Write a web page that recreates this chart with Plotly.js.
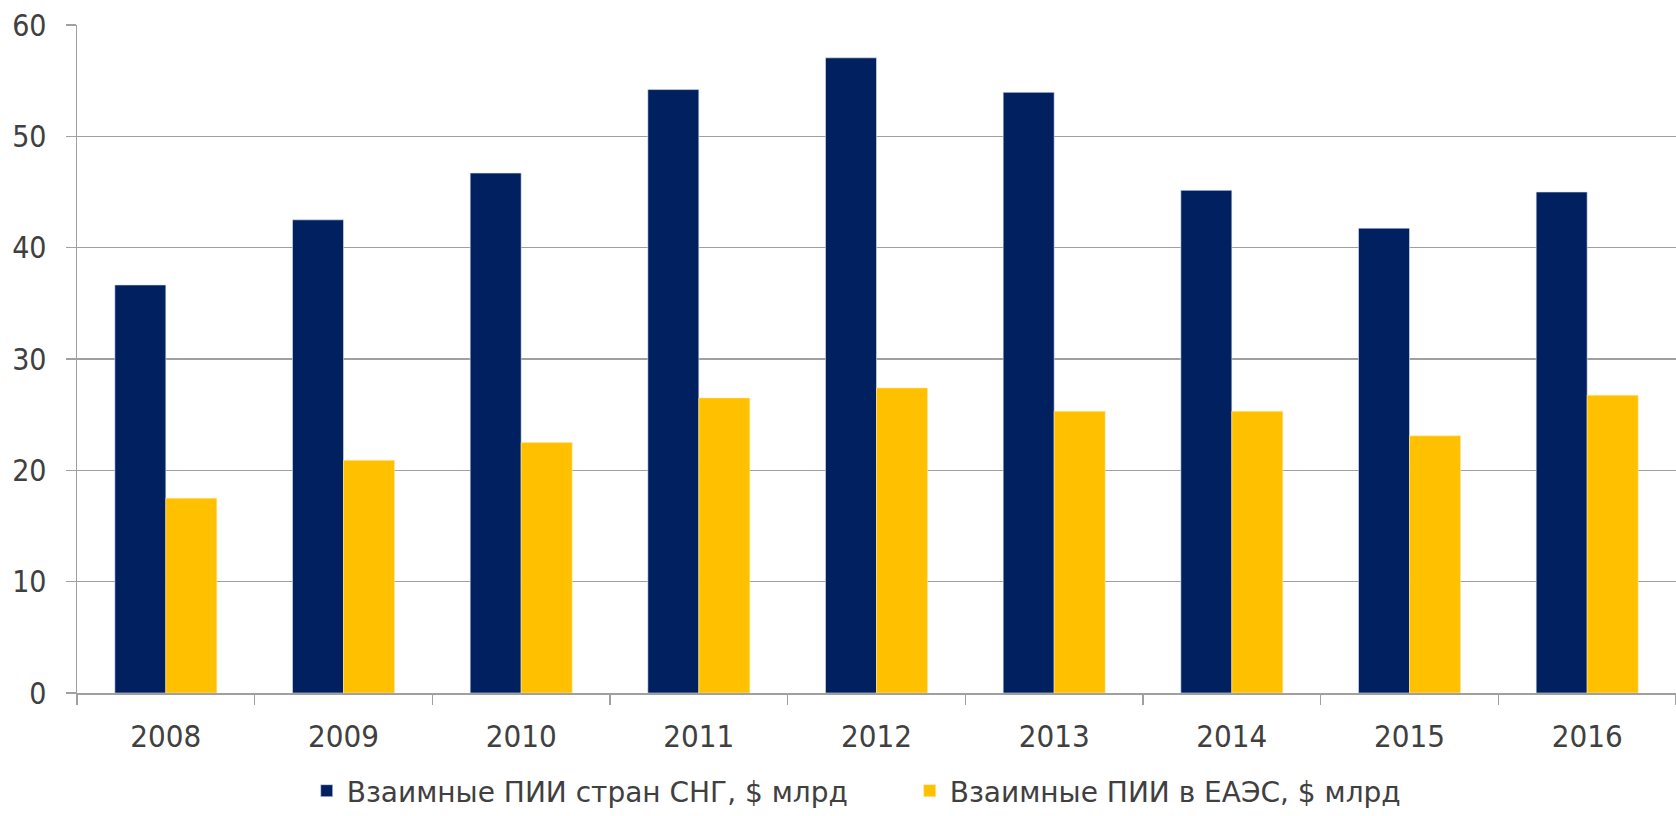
<!DOCTYPE html>
<html>
<head>
<meta charset="utf-8">
<script src="https://cdn.plot.ly/plotly-3.0.1.min.js"></script>
<style>html,body{margin:0;padding:0;background:#fff;}#chart{width:1676px;height:816px;}</style>
</head>
<body>
<div id="chart"></div>
<script>
const years = ["2008","2009","2010","2011","2012","2013","2014","2015","2016"];
const cisFDI = [36.65, 42.5, 46.7, 54.2, 57.05, 53.95, 45.15, 41.75, 45.0];
const eaeuFDI = [17.5, 20.9, 22.5, 26.5, 27.4, 25.3, 25.3, 23.1, 26.75];
const seriesNames = ["Взаимные ПИИ стран СНГ, $ млрд", "Взаимные ПИИ в ЕАЭС, $ млрд"];
const yTicks = [0, 10, 20, 30, 40, 50, 60];

const FONT = "'DejaVu Sans Condensed', 'DejaVu Sans', sans-serif";
const LFONT = "'DejaVu Sans', sans-serif";
const TXT = "#404040";

const traces = [
  {type: "bar", x: years, y: cisFDI, name: seriesNames[0],
   marker: {color: "#002060", line: {color: "#dfe4ee", width: 0.6}}},
  {type: "bar", x: years, y: eaeuFDI, name: seriesNames[1],
   marker: {color: "#FFC000", line: {color: "#ffe9a0", width: 0.6}}}
];

const layout = {
  width: 1676, height: 816,
  margin: {l: 77, r: 0, t: 24.5, b: 122.5},
  paper_bgcolor: "#fff", plot_bgcolor: "#fff",
  font: {family: FONT, color: TXT},
  barmode: "group", bargap: 0.426, bargroupgap: 0,
  showlegend: true,
  legend: {orientation: "h", xref: "container", yref: "container",
           x: 0.183, xanchor: "left", y: -0.011, yanchor: "bottom",
           font: {family: LFONT, size: 28, color: TXT},
           entrywidth: 558, entrywidthmode: "pixels", traceorder: "normal"},
  xaxis: {type: "category", showgrid: false, showline: true, linecolor: "#a0a0a0", linewidth: 1.5,
          ticks: "outside", ticklen: 10, tickcolor: "#a0a0a0", tickwidth: 1.5,
          tickson: "boundaries", tickfont: {family: FONT, size: 31, color: TXT},
          ticklabelstandoff: 15, zeroline: false},
  yaxis: {range: [0, 60], tickvals: yTicks, showgrid: true, gridcolor: "#a0a0a0", gridwidth: 1.5,
          showline: true, linecolor: "#a0a0a0", linewidth: 1.5,
          ticks: "outside", ticklen: 10, tickcolor: "#a0a0a0", tickwidth: 1.5,
          tickfont: {family: FONT, size: 30, color: TXT}, ticklabelstandoff: 13, zeroline: false}
};

Plotly.newPlot("chart", traces, layout, {displayModeBar: false, staticPlot: true});
</script>
</body>
</html>
